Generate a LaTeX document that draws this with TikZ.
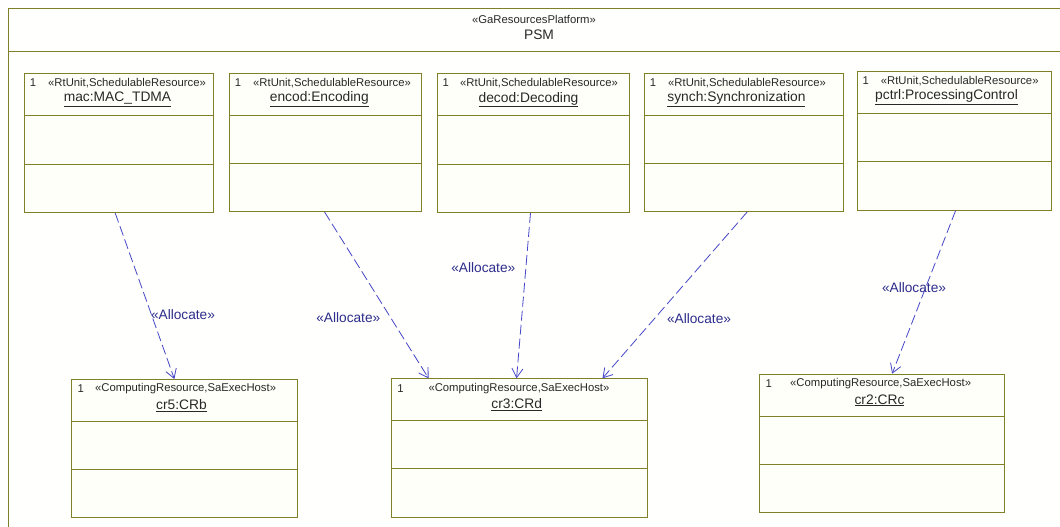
\documentclass[tikz,border=0pt]{standalone}
\usepackage{fontspec}
\setmainfont{Liberation Sans}
\usepackage{tikz}
\usetikzlibrary{arrows.meta,calc,positioning}

\definecolor{umlolive}{RGB}{128,128,40}
\definecolor{umlfill}{RGB}{255,255,249}
\definecolor{umldash}{RGB}{70,70,200}
\definecolor{umllabel}{RGB}{45,45,140}
\definecolor{umltext}{RGB}{40,40,40}

\tikzset{
  part/.style={draw=umlolive,fill=umlfill,line width=1pt,rectangle,inner sep=0pt,anchor=north west},
  divider/.style={draw=umlolive,line width=1pt},
  stereo/.style={font=\fontsize{11.3}{13}\selectfont,text=umltext,inner sep=0pt,anchor=west},
  mult/.style={font=\fontsize{11.3}{13}\selectfont,text=umltext,inner sep=0pt},
  pname/.style={font=\fontsize{13.8}{16}\selectfont,text=umltext,inner sep=0pt},
  alloc/.style={draw=umldash,line width=0.8pt,dash pattern=on 10pt off 4pt,-{Straight Barb[length=9pt,width=11pt]}},
  alloclabel/.style={font=\fontsize{13.7}{16}\selectfont,text=umllabel,inner sep=0pt}
}

\begin{document}
\begin{tikzpicture}[x=1pt,y=-1pt]
  \useasboundingbox (0,0) rectangle (1060,527);
  % platform frame
  \fill[white!60!umlfill] (8,9) rectangle (1060,527);
  \draw[divider] (8,527) -- (8,9) -- (1060,9);
  \draw[divider] (8,51.5) -- (1060,51.5);
  \node[mult] (psmst) at (534,19.3) {«GaResourcesPlatform»};
  \node[pname] (psm) at (539,35) {PSM};

  % schedulable units
  \node[part,minimum width=189pt,minimum height=139pt] (mac) at (24,73) {};
  \node[part,minimum width=191.7pt,minimum height=138.3pt] (encod) at (229,72.7) {};
  \node[part,minimum width=192pt,minimum height=139pt] (decod) at (436.7,73) {};
  \node[part,minimum width=199.3pt,minimum height=138.3pt] (synch) at (644,72.7) {};
  \node[part,minimum width=194pt,minimum height=139pt] (pctrl) at (856.7,70.7) {};

  % computing resources
  \node[part,minimum width=226pt,minimum height=138.3pt] (cr5) at (71.3,379) {};
  \node[part,minimum width=256.3pt,minimum height=138.4pt] (cr3) at (391,378.3) {};
  \node[part,minimum width=245pt,minimum height=138.6pt] (cr2) at (759.3,373.7) {};

  \foreach \b/\p/\q in {mac/42.7/91,encod/42.3/90.3,decod/42.7/91,synch/42.3/90.3,pctrl/42.3/90.6,
                        cr5/42/90,cr3/42/90,cr2/42.3/90.6}
    \draw[divider] ($(\b.north west)+(0,\p)$) -- ($(\b.north east)+(0,\p)$)
                   ($(\b.north west)+(0,\q)$) -- ($(\b.north east)+(0,\q)$);

  % headers
  \foreach \b in {mac,encod,decod,synch,pctrl}
    \node[mult] (\b one) at ($(\b.north west)+(9,10)$) {1};
  \node[stereo] (macst) at ($(mac.north west)+(24,10)$) {«RtUnit,SchedulableResource»};
  \node[stereo] (encodst) at ($(encod.north west)+(24,10)$) {«RtUnit,SchedulableResource»};
  \node[stereo] (decodst) at ($(decod.north west)+(23.3,10)$) {«RtUnit,SchedulableResource»};
  \node[stereo] (synchst) at ($(synch.north west)+(24,10)$) {«RtUnit,SchedulableResource»};
  \node[stereo] (pctrlst) at ($(pctrl.north west)+(24,10)$) {«RtUnit,SchedulableResource»};
  \node[pname] (macnm) at ($(mac.north)+(-1.5,26.5)$) {\underline{mac:MAC\_TDMA}};
  \node[pname] (encodnm) at ($(encod.north)+(-6,26.5)$) {\underline{encod:Encoding}};
  \node[pname] (decodnm) at ($(decod.north)+(-4.7,26.5)$) {\underline{decod:Decoding}};
  \node[pname] (synchnm) at ($(synch.north)+(-7.7,26.5)$) {\underline{synch:Synchronization}};
  \node[pname] (pctrlnm) at ($(pctrl.north)+(-7.7,26.5)$) {\underline{pctrl:ProcessingControl}};

  \foreach \b in {cr5,cr3,cr2}
    \node[mult] (\b one) at ($(\b.north west)+(9.4,10)$) {1};
  \node[stereo] (cr5st) at ($(cr5.north west)+(23.7,10)$) {«ComputingResource,SaExecHost»};
  \node[stereo] (cr3st) at ($(cr3.north west)+(37.3,10)$) {«ComputingResource,SaExecHost»};
  \node[stereo] (cr2st) at ($(cr2.north west)+(30.7,10)$) {«ComputingResource,SaExecHost»};
  \node[pname] (cr5nm) at ($(cr5.north)+(-3.3,26.7)$) {\underline{cr5:CRb}};
  \node[pname] (cr3nm) at ($(cr3.north)+(-3,26.7)$) {\underline{cr3:CRd}};
  \node[pname] (cr2nm) at ($(cr2.north)+(-2.8,26.7)$) {\underline{cr2:CRc}};

  % allocations
  \draw[alloc] ($(mac.south west)!0.48!(mac.south east)$) -- ($(cr5.north west)!0.454!(cr5.north east)$);
  \draw[alloc] ($(encod.south west)!0.496!(encod.south east)$) -- ($(cr3.north west)!0.146!(cr3.north east)$);
  \draw[alloc] ($(decod.south west)!0.486!(decod.south east)$) -- ($(cr3.north west)!0.488!(cr3.north east)$);
  \draw[alloc] ($(synch.south west)!0.515!(synch.south east)$) -- ($(cr3.north west)!0.822!(cr3.north east)$);
  \draw[alloc] ($(pctrl.south west)!0.507!(pctrl.south east)$) -- ($(cr2.north west)!0.54!(cr2.north east)$);
  \node[alloclabel] (allocmac) at (183,315) {«Allocate»};
  \node[alloclabel] (allocencod) at (348.3,317.3) {«Allocate»};
  \node[alloclabel] (allocdecod) at (483.3,267.7) {«Allocate»};
  \node[alloclabel] (allocsynch) at (699,318.3) {«Allocate»};
  \node[alloclabel] (allocpctrl) at (914,287.3) {«Allocate»};
\end{tikzpicture}
\end{document}
